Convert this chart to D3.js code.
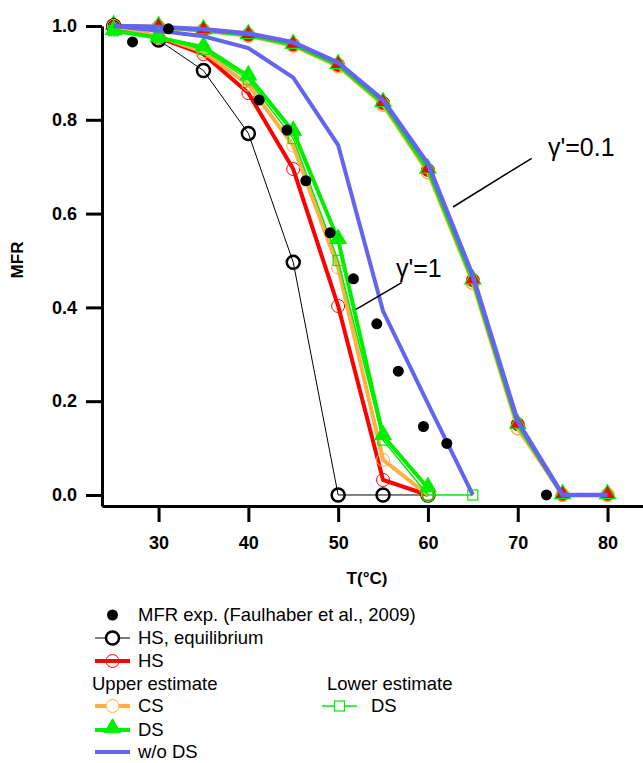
<!DOCTYPE html>
<html>
<head>
<meta charset="utf-8">
<script src="https://cdn.jsdelivr.net/npm/d3@7"></script>
<style>
  body { margin: 0; background: #fff; }
  svg { font-family: "Liberation Sans", Arial, sans-serif; }
</style>
</head>
<body>
<svg id="chart" width="643" height="763"></svg>
<script>
// ---------- data ----------
const xTicks = [30, 40, 50, 60, 70, 80];
const yTicks = [0.0, 0.2, 0.4, 0.6, 0.8, 1.0];

const T1 = [25, 30, 35, 40, 45, 50, 55, 60];
const T1b = [25, 30, 35, 40, 45, 50, 55, 60, 65];
const T01 = [25, 30, 35, 40, 45, 50, 55, 60, 65, 70, 75, 80];

// experimental (Faulhaber et al., 2009)
const expT   = [27.1, 31.1, 41.2, 44.3, 46.4, 49.1, 51.7, 54.3, 56.7, 59.5, 62.1, 73.2];
const expMFR = [0.966, 0.994, 0.842, 0.778, 0.670, 0.559, 0.461, 0.365, 0.264, 0.146, 0.110, 0.0];

// HS, equilibrium
const hsEq = [1.0, 0.970, 0.905, 0.771, 0.496, 0.0, 0.0, 0.0];

// gamma' = 1
const hs1   = [1.0, 0.975, 0.940, 0.857, 0.695, 0.403, 0.032, 0.0];
const cs1   = [1.0, 0.978, 0.945, 0.875, 0.745, 0.485, 0.075, 0.0];
const ds1   = [0.99, 0.975, 0.955, 0.893, 0.775, 0.544, 0.126, 0.015];
const lowDs1 = [0.99, 0.975, 0.950, 0.885, 0.760, 0.500, 0.117, 0.0, 0.0];
const wods1 = [1.0, 0.990, 0.978, 0.953, 0.890, 0.746, 0.392, 0.195, 0.0];

// gamma' = 0.1
const hs01   = [1.0, 0.998, 0.991, 0.981, 0.960, 0.917, 0.836, 0.693, 0.458, 0.151, 0.0, 0.0];
const cs01   = [1.0, 0.997, 0.990, 0.979, 0.958, 0.914, 0.832, 0.688, 0.452, 0.142, 0.0, 0.0];
const ds01   = [1.0, 0.998, 0.991, 0.981, 0.960, 0.917, 0.836, 0.694, 0.458, 0.150, 0.0, 0.0];
const wods01 = [1.0, 0.998, 0.993, 0.984, 0.965, 0.922, 0.842, 0.706, 0.467, 0.157, 0.0, 0.0];

// ---------- setup ----------
const RED = "#ff0000", ORANGE = "#ffb040", GREEN = "#00ee00", BLUE = "#6464f0";
const svg = d3.select("#chart");
const x = d3.scaleLinear().domain([23.7, 83.95]).range([102, 643]);
const y = d3.scaleLinear().domain([-0.0235, 1.0]).range([506, 26]);
const zip = (xs, ys) => xs.map((t, i) => [t, ys[i]]);
const line = d3.line().x(d => x(d[0])).y(d => y(d[1]));

// ---------- axes ----------
const yAxis = svg.append("g").attr("transform", "translate(102,0)")
  .call(d3.axisLeft(y).tickValues(yTicks).tickFormat(d3.format(".1f"))
    .tickSize(16).tickSizeOuter(0).tickPadding(9));
const xAxis = svg.append("g").attr("transform", "translate(0,506)")
  .call(d3.axisBottom(x).tickValues(xTicks).tickFormat(d3.format("d"))
    .tickSize(16).tickSizeOuter(0).tickPadding(14));
[yAxis, xAxis].forEach(g => {
  g.selectAll("path.domain").attr("stroke", "#000").attr("stroke-width", 3);
  g.selectAll(".tick line").attr("stroke", "#000").attr("stroke-width", 3);
  g.selectAll(".tick text").attr("fill", "#000").attr("font-size", 18)
    .attr("font-weight", "bold").attr("font-family", "Liberation Sans, Arial, sans-serif");
});

svg.append("text").attr("x", 367).attr("y", 584).attr("text-anchor", "middle")
  .attr("font-size", 17).attr("font-weight", "bold").text("T(°C)");
svg.append("text").attr("transform", "translate(23,260) rotate(-90)")
  .attr("text-anchor", "middle").attr("font-size", 17).attr("font-weight", "bold").text("MFR");

// ---------- marker helpers ----------
const tri = d3.symbol().type(d3.symbolTriangle).size(110);
function circles(g, pts, r, stroke, fill, sw) {
  g.selectAll(null).data(pts).enter().append("circle")
    .attr("cx", d => x(d[0])).attr("cy", d => y(d[1])).attr("r", r)
    .attr("fill", fill).attr("stroke", stroke).attr("stroke-width", sw);
}
function triangles(g, pts, stroke, fill) {
  g.selectAll(null).data(pts).enter().append("path")
    .attr("d", tri).attr("transform", d => `translate(${x(d[0])},${y(d[1]) - 1})`)
    .attr("fill", fill).attr("stroke", stroke).attr("stroke-width", 1.2);
}
function squares(g, pts, s) {
  g.selectAll(null).data(pts).enter().append("rect")
    .attr("x", d => x(d[0]) - s / 2).attr("y", d => y(d[1]) - s / 2)
    .attr("width", s).attr("height", s)
    .attr("fill", "none").attr("stroke", GREEN).attr("stroke-width", 1.2);
}
function path(g, pts, color, w) {
  g.append("path").datum(pts).attr("d", line).attr("fill", "none")
    .attr("stroke", color).attr("stroke-width", w).attr("stroke-linejoin", "miter");
}

const plot = svg.append("g");

// gamma' = 0.1 group
const g01 = plot.append("g");
path(g01, zip(T01, hs01), RED, 4);
circles(g01, zip(T01, hs01), 6.5, RED, RED, 1);
path(g01, zip(T01, cs01), ORANGE, 4);
circles(g01, zip(T01, cs01), 6.5, ORANGE, "none", 1.5);
path(g01, zip(T01, ds01), GREEN, 4);
triangles(g01, zip(T01, ds01), GREEN, RED);
path(g01, zip(T01, wods01), BLUE, 4.5);

// HS equilibrium
const gEq = plot.append("g");
path(gEq, zip(T1, hsEq), "#000", 1);
circles(gEq, zip(T1, hsEq), 6.5, "#000", "none", 2.5);

// gamma' = 1 group
const g1 = plot.append("g");
path(g1, zip(T1, hs1), RED, 4);
circles(g1, zip(T1, hs1), 6.5, RED, "none", 1);
path(g1, zip(T1, cs1), ORANGE, 4);
circles(g1, zip(T1, cs1), 6.5, ORANGE, "none", 1);
path(g1, zip(T1, ds1), GREEN, 4);
triangles(g1, zip(T1, ds1), GREEN, GREEN);
path(g1, zip(T1b, lowDs1), GREEN, 1.5);
squares(g1, zip(T1b, lowDs1), 10);
path(g1, zip(T1b, wods1), BLUE, 4);

// experimental points
circles(plot, zip(expT, expMFR), 5.5, "none", "#000", 0);

// ---------- annotations ----------
svg.append("line").attr("x1", 531.7).attr("y1", 158.3).attr("x2", 453).attr("y2", 207)
  .attr("stroke", "#000").attr("stroke-width", 1.5);
svg.append("text").attr("x", 548).attr("y", 156).attr("font-size", 25).text("γ'=0.1");
svg.append("line").attr("x1", 401.7).attr("y1", 282.7).attr("x2", 356).attr("y2", 309.3)
  .attr("stroke", "#000").attr("stroke-width", 1.5);
svg.append("text").attr("x", 396).attr("y", 277).attr("font-size", 25).text("γ'=1");

// ---------- legend ----------
const leg = svg.append("g").attr("font-size", 18.5);
function legText(tx, ty, s) {
  leg.append("text").attr("x", tx).attr("y", ty).attr("dy", "0.35em").text(s);
}
function legLine(x1, x2, ty, color, w) {
  leg.append("line").attr("x1", x1).attr("x2", x2).attr("y1", ty).attr("y2", ty)
    .attr("stroke", color).attr("stroke-width", w);
}
// exp
leg.append("circle").attr("cx", 112.5).attr("cy", 615).attr("r", 5.5).attr("fill", "#000");
legText(138, 615, "MFR exp. (Faulhaber et al., 2009)");
// HS eq
legLine(95, 130, 638, "#000", 1);
leg.append("circle").attr("cx", 112.5).attr("cy", 638).attr("r", 6.5)
  .attr("fill", "#fff").attr("stroke", "#000").attr("stroke-width", 2.5);
legText(138, 638, "HS, equilibrium");
// HS
legLine(95, 130, 661, RED, 4);
leg.append("circle").attr("cx", 112.5).attr("cy", 661).attr("r", 6.5)
  .attr("fill", "none").attr("stroke", RED).attr("stroke-width", 1);
legText(138, 661, "HS");
legText(92, 684, "Upper estimate");
legText(327, 684, "Lower estimate");
// CS
legLine(95, 130, 706, ORANGE, 4);
leg.append("circle").attr("cx", 112.5).attr("cy", 706).attr("r", 6.5)
  .attr("fill", "#fff").attr("stroke", ORANGE).attr("stroke-width", 1);
legText(138, 706, "CS");
// DS
legLine(95, 130, 730, GREEN, 4);
leg.append("path").attr("d", tri).attr("transform", "translate(112.5,728)")
  .attr("fill", GREEN).attr("stroke", GREEN);
legText(138, 730, "DS");
// w/o DS
legLine(95, 130, 752, BLUE, 4);
legText(138, 752, "w/o DS");
// lower DS
legLine(322, 357, 706, GREEN, 1.5);
leg.append("rect").attr("x", 334.5).attr("y", 701).attr("width", 10).attr("height", 10)
  .attr("fill", "#fff").attr("stroke", GREEN).attr("stroke-width", 1.2);
legText(371, 706, "DS");
</script>
</body>
</html>
